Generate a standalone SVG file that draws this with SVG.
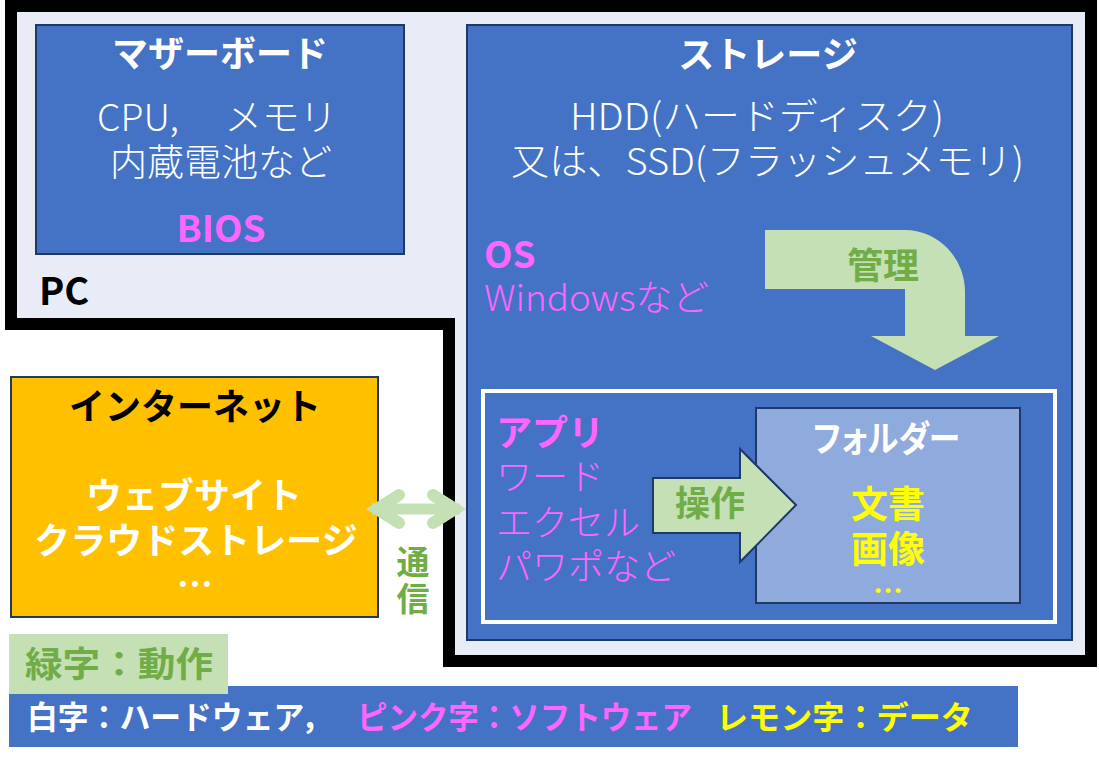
<svg xmlns="http://www.w3.org/2000/svg" width="1099" height="763" viewBox="0 0 1099 763">
<style>
text{font-family:"Noto Sans CJK JP","Noto Sans",sans-serif}
.b{font-weight:700}
.l{font-weight:300}
.w{fill:#FFFFFF}
.p{fill:#FF66FF}
.y{fill:#FFFF00}
.g{fill:#70AD47}
.k{fill:#000000}
.c{text-anchor:middle}
.box{stroke:#1F3864;stroke-width:2}
.blue{fill:#4472C4}
.palt{font-feature-settings:"palt"}
</style>
<rect width="1099" height="763" fill="#FFFFFF"/>
<g id="pc">
<polygon points="11,6 1091,6 1091,661 449,661 449,324 11,324" fill="#E7ECF6" stroke="#000000" stroke-width="12"/>
<text class="b k" x="39" y="305" font-size="38">PC</text>
</g>
<g id="motherboard">
<rect class="box blue" x="36" y="25" width="368" height="229"/>
<text class="b w c" x="220" y="67" font-size="36">マザーボード</text>
<text class="l w" x="97" y="131" font-size="37" textLength="240" lengthAdjust="spacingAndGlyphs" xml:space="preserve">CPU,　 メモリ</text>
<text class="l w c" x="221" y="176" font-size="37">内蔵電池など</text>
<text class="b p c" x="221" y="242" font-size="37">BIOS</text>
</g>
<g id="storage">
<rect class="box blue" x="467" y="25" width="605" height="615"/>
<text class="b w c" x="768" y="68" font-size="36">ストレージ</text>
<text class="l w" x="570" y="130" font-size="37" textLength="374" lengthAdjust="spacingAndGlyphs">HDD(ハードディスク)</text>
<text class="l w" x="511" y="175" font-size="37" textLength="513" lengthAdjust="spacingAndGlyphs">又は、SSD(フラッシュメモリ)</text>
<text class="b p" x="484" y="268" font-size="37">OS</text>
<text class="l p" x="484" y="311" font-size="36" textLength="225" lengthAdjust="spacingAndGlyphs">Windowsなど</text>
</g>
<g id="apps">
<rect x="483" y="391" width="572" height="231" fill="#4472C4" stroke="#FFFFFF" stroke-width="4"/>
<text class="b p" x="496" y="446" font-size="36">アプリ</text>
<text class="l p" x="496" y="490" font-size="36">ワード</text>
<text class="l p" x="496" y="536" font-size="36">エクセル</text>
<text class="l p" x="496" y="580" font-size="36">パワポなど</text>
</g>
<g id="folder">
<rect class="box" x="756" y="408" width="264" height="195" fill="#8FAADC"/>
<text class="b w palt" x="813" y="452" font-size="36" textLength="147" lengthAdjust="spacingAndGlyphs">フォルダー</text>
<text class="b y c" x="888" y="518" font-size="37">文書</text>
<text class="b y c" x="888" y="563" font-size="37">画像</text>
<text class="b y c" x="888" y="602" font-size="30">…</text>
</g>
<g id="internet">
<rect class="box" x="11" y="377" width="367" height="240" fill="#FFC000"/>
<text class="b k c" x="195" y="420" font-size="36">インターネット</text>
<text class="b w c" x="194" y="509" font-size="36">ウェブサイト</text>
<text class="b w c" x="196" y="554" font-size="36">クラウドストレージ</text>
<text class="b w c" x="195" y="598" font-size="36">…</text>
</g>
<g id="connectors">
<path d="M765,230 L905,230 A60,62 0 0 1 965,292 L965,336 L999,336 L935,370 L871,336 L905,336 L905,289 L765,289 Z" fill="#C5E0B4"/>
<text class="b g c" x="883" y="279" font-size="36">管理</text>
<polygon class="box" points="653,478 740,478 740,449 796,505 740,562 740,533 653,533" fill="#C5E0B4"/>
<text class="b g c" x="710" y="516" font-size="35">操作</text>
<g fill="none" stroke="#C5E0B4">
<line x1="372" y1="509" x2="460" y2="509" stroke-width="11"/>
<polyline points="399,495 377,509 399,523" stroke-width="12" stroke-linecap="round" stroke-linejoin="miter"/>
<polyline points="433,495 455,509 433,523" stroke-width="12" stroke-linecap="round" stroke-linejoin="miter"/>
</g>
<text class="b g c" x="413" y="574" font-size="33">通</text>
<text class="b g c" x="413" y="611" font-size="33">信</text>
</g>
<g id="legend">
<rect x="9" y="686" width="1009" height="61" fill="#4472C4"/>
<rect x="9" y="634" width="219" height="60" fill="#C5E0B4"/>
<text class="b g" x="25" y="677" font-size="35" textLength="188" lengthAdjust="spacingAndGlyphs">緑字：動作</text>
<text class="b w" x="27" y="729" font-size="32" textLength="305" lengthAdjust="spacingAndGlyphs">白字：ハードウェア，</text>
<text class="b p" x="357" y="729" font-size="32" textLength="335" lengthAdjust="spacingAndGlyphs">ピンク字：ソフトウェア</text>
<text class="b y" x="716" y="729" font-size="32" textLength="257" lengthAdjust="spacingAndGlyphs">レモン字：データ</text>
</g>
</svg>
